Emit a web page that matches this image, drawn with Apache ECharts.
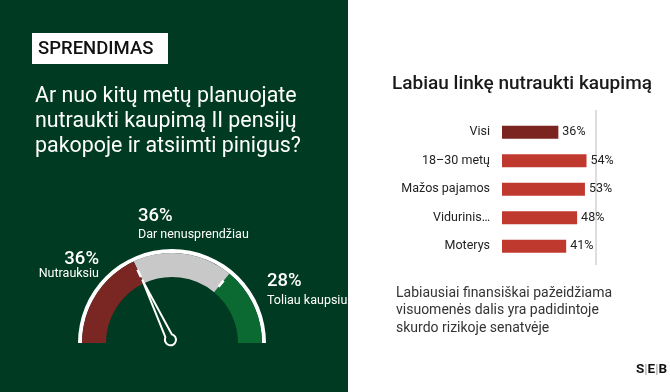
<!DOCTYPE html>
<html>
<head>
<meta charset="utf-8">
<script src="https://cdn.jsdelivr.net/npm/echarts@6/dist/echarts.min.js"></script>
<style>
html,body{margin:0;padding:0;background:#fff;}
#chart{width:670px;height:392px;}
</style>
</head>
<body>
<div id="chart"></div>
<script>
// ---- data ----
const gaugeLabels = ['Nutrauksiu', 'Dar nenusprendžiau', 'Toliau kaupsiu'];
const gaugeValues = [36, 36, 28];
const needleValue = 36;
const barCategories = ['Visi', '18–30 metų', 'Mažos pajamos', 'Vidurinis…', 'Moterys'];
const barValues = [36, 54, 53, 48, 41];
const headerTag = 'SPRENDIMAS';
const questionLines = ['Ar nuo kitų metų planuojate', 'nutraukti kaupimą II pensijų', 'pakopoje ir atsiimti pinigus?'];
const barTitle = 'Labiau linkę nutraukti kaupimą';
const noteLines = ['Labiausiai finansiškai pažeidžiama', 'visuomenės dalis yra padidintoje', 'skurdo rizikoje senatvėje'];

// ---- styles ----
const BG = '#003a22';
const FONT = 'Roboto, "Noto Sans", sans-serif';
const gaugeColors = ['#7a2622', '#c8c8c8', '#0b6a32'];
const barColors = ['#7b2420', '#c0392f', '#c0392f', '#c0392f', '#c0392f'];
const CX = 172, CY = 343;

const chart = echarts.init(document.getElementById('chart'), null, {renderer: 'canvas'});

let acc = 0;
const stops = gaugeValues.map((v, i) => { acc += v; return [Math.min(acc / 100, 1), gaugeColors[i]]; });
const b1 = gaugeValues[0], b2 = gaugeValues[0] + gaugeValues[1];

const gaugeLabelPos = [
  {x: 99, yv: 259, yl: 274, align: 'right'},
  {x: 138, yv: 216, yl: 235, align: 'left'},
  {x: 267, yv: 281, yl: 301, align: 'left'}
];

const graphics = [
  {type: 'rect', shape: {x: 0, y: 0, width: 348, height: 392}, style: {fill: BG}, z: -10},
  {type: 'rect', shape: {x: 32, y: 33, width: 136, height: 31}, style: {fill: '#fff'}},
  {type: 'text', style: {x: 38, y: 49, text: headerTag, font: '500 18.5px ' + FONT, fill: '#111', textVerticalAlign: 'middle'}},
  {type: 'line', shape: {x1: 596, y1: 110, x2: 596, y2: 265}, style: {stroke: '#bdbdbd', lineWidth: 1}},
  {type: 'text', style: {x: 392, y: 84, text: barTitle, font: '500 19px ' + FONT, fill: '#1a1a1a', textVerticalAlign: 'middle'}},
  {type: 'text', style: {x: 636, y: 370, text: '{b|S}{s||}{b|E}{s||}{b|B}', rich: {b: {font: 'bold 13.5px ' + FONT, fill: '#111'}, s: {font: '13.5px ' + FONT, fill: '#999'}}, textVerticalAlign: 'middle'}}
];
questionLines.forEach((t, i) => graphics.push({type: 'text', style: {x: 35, y: 97 + i * 25, text: t, font: '21.4px ' + FONT, fill: '#fff', textVerticalAlign: 'middle'}}));
noteLines.forEach((t, i) => graphics.push({type: 'text', style: {x: 396, y: 293 + i * 17.5, text: t, font: '14px ' + FONT, fill: '#333', textVerticalAlign: 'middle'}}));
gaugeLabels.forEach((lab, i) => {
  const p = gaugeLabelPos[i];
  graphics.push({type: 'text', style: {x: p.x, y: p.yv, text: gaugeValues[i] + '%', font: '500 18.5px ' + FONT, fill: '#fff', textAlign: p.align, textVerticalAlign: 'middle'}});
  graphics.push({type: 'text', style: {x: p.x, y: p.yl, text: lab, font: '12.5px ' + FONT, fill: '#fff', textAlign: p.align, textVerticalAlign: 'middle'}});
});

const hidden = {
  axisTick: {show: false}, splitLine: {show: false}, axisLabel: {show: false},
  detail: {show: false}, title: {show: false}, pointer: {show: false}, anchor: {show: false}
};

const option = {
  animation: false,
  graphic: graphics,
  grid: {left: 502, top: 118, width: 156.5, height: 142.5},
  xAxis: {type: 'value', min: 0, max: 100, show: false},
  yAxis: {
    type: 'category', data: barCategories, inverse: true,
    axisLine: {show: false}, axisTick: {show: false},
    axisLabel: {margin: 12, fontSize: 12.5, color: '#222', fontFamily: FONT}
  },
  series: [
    Object.assign({}, hidden, {
      type: 'gauge', center: [CX, CY], radius: 94, startAngle: 180, endAngle: 0, min: 0, max: 100,
      axisLine: {lineStyle: {width: 4, color: [[1, '#fff']]}},
      data: [{value: 0}]
    }),
    Object.assign({}, hidden, {
      type: 'gauge', center: [CX, CY], radius: 90, startAngle: 180, endAngle: 0, min: 0, max: 100,
      axisLine: {lineStyle: {width: 24, color: stops}},
      pointer: {
        show: true,
        icon: 'path://M6,0 L9.5,60 A5.5,5.5 0 1,1 2.5,60 Z',
        width: 11, length: 72, offsetCenter: [0, 2],
        itemStyle: {color: BG, borderColor: '#fff', borderWidth: 2}
      },
      data: [{value: needleValue}]
    }),
    Object.assign({}, hidden, {
      type: 'gauge', center: [CX, CY], radius: 91,
      startAngle: 180 - b1 * 1.8, endAngle: 180 - b2 * 1.8, min: b1, max: b2, splitNumber: 1,
      axisLine: {show: false},
      splitLine: {show: true, length: 8, distance: 0, lineStyle: {color: '#fff', width: 2.5}},
      data: [{value: b1}]
    }),
    {
      type: 'bar', data: barValues.map((v, i) => ({value: v, itemStyle: {color: barColors[i]}})),
      barWidth: 13,
      label: {show: true, position: 'right', distance: 4, formatter: '{c}%', fontSize: 12.5, color: '#222', fontFamily: FONT}
    }
  ]
};
chart.setOption(option);
</script>
</body>
</html>
